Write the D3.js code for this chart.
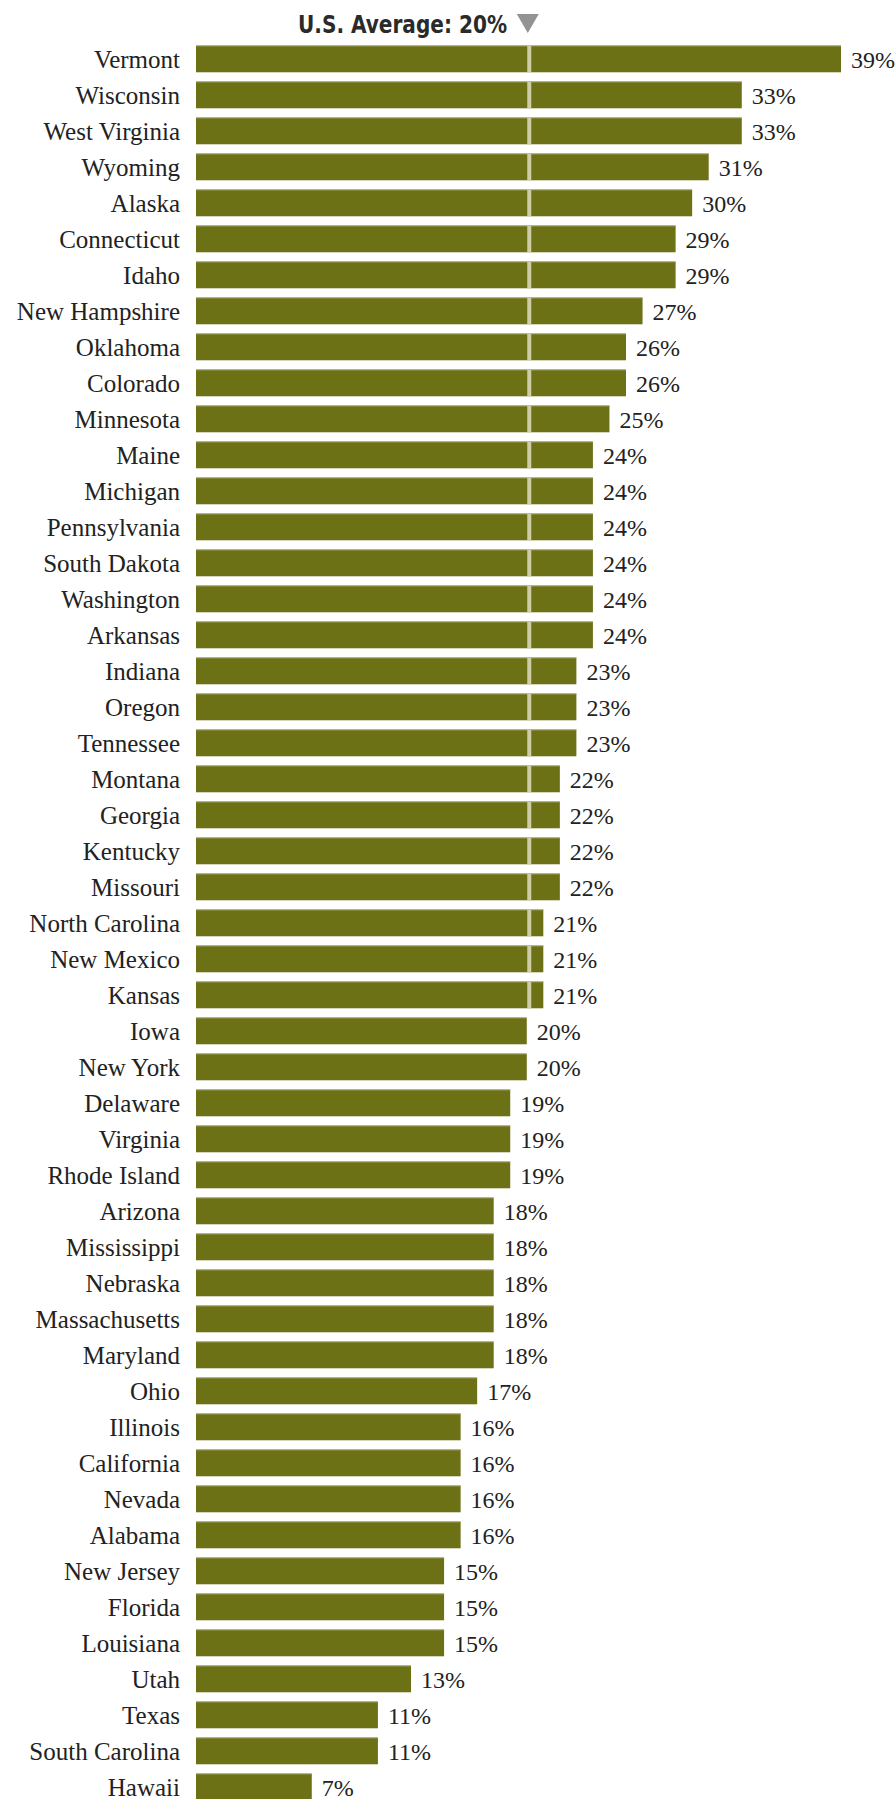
<!DOCTYPE html>
<html>
<head>
<meta charset="utf-8">
<script src="https://cdn.jsdelivr.net/npm/d3@7"></script>
<style>
  html, body { margin: 0; padding: 0; background: #fff; }
  svg { display: block; }
</style>
</head>
<body>
<svg id="chart" width="895" height="1799"></svg>
<script>
const states = ["Vermont","Wisconsin","West Virginia","Wyoming","Alaska","Connecticut","Idaho","New Hampshire","Oklahoma","Colorado","Minnesota","Maine","Michigan","Pennsylvania","South Dakota","Washington","Arkansas","Indiana","Oregon","Tennessee","Montana","Georgia","Kentucky","Missouri","North Carolina","New Mexico","Kansas","Iowa","New York","Delaware","Virginia","Rhode Island","Arizona","Mississippi","Nebraska","Massachusetts","Maryland","Ohio","Illinois","California","Nevada","Alabama","New Jersey","Florida","Louisiana","Utah","Texas","South Carolina","Hawaii"];
const values = [39,33,33,31,30,29,29,27,26,26,25,24,24,24,24,24,24,23,23,23,22,22,22,22,21,21,21,20,20,19,19,19,18,18,18,18,18,17,16,16,16,16,15,15,15,13,11,11,7];
const average = 20;
const titleText = "U.S. Average: 20%";

const data = states.map((s, i) => ({ state: s, value: values[i] }));

const svg = d3.select("#chart");
const left = 196;
const x = d3.scaleLinear().domain([0, 39]).range([left, 841]);
const step = 36;
const top0 = 46 - step * 0.14;
const y = d3.scaleBand()
  .domain(states)
  .range([top0, top0 + step * states.length])
  .paddingInner(0.26)
  .paddingOuter(0.13);

const barColor = "#6c7116";

const rows = svg.append("g").selectAll("g.row")
  .data(data).join("g").attr("class", "row");

rows.append("rect")
  .attr("x", x(0))
  .attr("y", d => y(d.state))
  .attr("width", d => x(d.value) - x(0))
  .attr("height", y.bandwidth())
  .attr("fill", barColor);

rows.append("line")
  .attr("x1", x(0))
  .attr("x2", d => x(d.value))
  .attr("y1", d => y(d.state) + 0.5)
  .attr("y2", d => y(d.state) + 0.5)
  .attr("stroke", "#8f9248")
  .attr("stroke-width", 1);

rows.filter(d => d.value > average).append("rect")
  .attr("x", x(average) + 0.5)
  .attr("y", d => y(d.state))
  .attr("width", 4)
  .attr("height", y.bandwidth())
  .attr("fill", "#cdcda8");

rows.append("text")
  .attr("x", 180)
  .attr("y", d => y(d.state) + y.bandwidth() / 2 + 9.5)
  .attr("text-anchor", "end")
  .attr("font-family", "'Liberation Serif', 'DejaVu Serif', serif")
  .attr("font-size", 25)
  .attr("fill", "#222")
  .text(d => d.state);

rows.append("text")
  .attr("x", d => x(d.value) + 10)
  .attr("y", d => y(d.state) + y.bandwidth() / 2 + 9.5)
  .attr("font-family", "'Liberation Serif', 'DejaVu Serif', serif")
  .attr("font-size", 24)
  .attr("fill", "#222")
  .text(d => d.value + "%");

// Title
svg.append("text")
  .attr("x", 507)
  .attr("y", 32.5)
  .attr("text-anchor", "end")
  .attr("font-family", "'Liberation Sans Narrow', 'DejaVu Sans Condensed', 'Liberation Sans', sans-serif")
  .attr("font-weight", "bold")
  .attr("font-size", 24)
  .attr("textLength", 209)
  .attr("lengthAdjust", "spacingAndGlyphs")
  .attr("fill", "#2a2a2a")
  .text(titleText);

const tx = x(average) + 1;
svg.append("path")
  .attr("d", `M${tx - 11},14 L${tx + 11},14 L${tx},33 Z`)
  .attr("fill", "#939393");
</script>
</body>
</html>
